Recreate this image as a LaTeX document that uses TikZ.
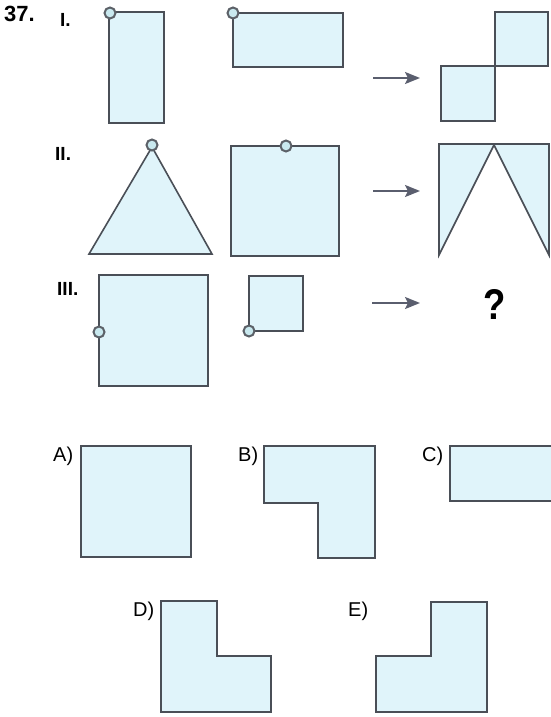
\documentclass[tikz,border=0pt]{standalone}
\usepackage{fontspec}
\setsansfont{Liberation Sans}
\usetikzlibrary{arrows.meta}
\definecolor{paleblue}{HTML}{E0F4FA}
\definecolor{edgegray}{HTML}{4A4F57}
\definecolor{arrowgray}{HTML}{5A5E6E}
\definecolor{hingefill}{HTML}{C9E9EF}

\begin{document}
\begin{tikzpicture}[
  x=1pt,y=-1pt,
  font=\sffamily\fontsize{20}{22}\selectfont,
  piece/.style={draw=edgegray,line width=1.6pt,fill=paleblue,line join=miter},
  hinge/.style={draw=edgegray!90,line width=2pt,fill=hingefill},
  flow/.style={-{Stealth[length=15pt,width=12pt,inset=3pt]},line width=2pt,draw=arrowgray},
  tag/.style={anchor=base west,inner sep=0pt},
  roman/.style={tag,font=\sffamily\bfseries\fontsize{19}{21}\selectfont},
  num/.style={tag,font=\sffamily\bfseries\fontsize{22}{24}\selectfont},
  ask/.style={inner sep=0pt,xscale=0.85,font=\sffamily\bfseries\fontsize{43}{46}\selectfont}
]
\path[use as bounding box] (0,0) rectangle (551,717);
\node[num] (q37) at (4,22) {37.};
\node[roman] (rowI) at (60,27) {I.};
\node[roman] (rowII) at (55,160) {II.};
\node[roman] (rowIII) at (57,295) {III.};
% row I
\draw[piece] (109,12) rectangle (164,123);
\draw[piece] (233,13) rectangle (343,67);
\draw[hinge] (110,13) circle[radius=5.5pt];
\draw[hinge] (233,13) circle[radius=5.5pt];
\draw[piece] (495,12) rectangle (548,66);
\draw[piece] (441,66) rectangle (495,121);
% row II
\draw[piece] (152,147) -- (212,254) -- (89,254) -- cycle;
\draw[piece] (231,146) rectangle (339,256);
\draw[hinge] (152,145) circle[radius=5.5pt];
\draw[hinge] (286,146) circle[radius=5.5pt];
\draw[piece] (439,144) -- (549,144) -- (549,255) -- (494,145) -- (439,255) -- cycle;
% row III
\draw[piece] (99,275) rectangle (208,386);
\draw[piece] (249,276) rectangle (303,331);
\draw[hinge] (99,332) circle[radius=5.5pt];
\draw[hinge] (249,331) circle[radius=5.5pt];
\node[ask] (ask) at (495,304) {?};
% arrows
\coordinate (s1) at (373,78);  \coordinate (e1) at (420,78);
\coordinate (s2) at (373,191); \coordinate (e2) at (420,191);
\coordinate (s3) at (372,303); \coordinate (e3) at (420,303);
\draw[flow] (s1) -- (e1);
\draw[flow] (s2) -- (e2);
\draw[flow] (s3) -- (e3);
% options
\node[tag] (optA) at (53,461) {A)};
\node[tag] (optB) at (238,461) {B)};
\node[tag] (optC) at (422,461) {C)};
\node[tag] (optD) at (133,616) {D)};
\node[tag] (optE) at (348,616) {E)};
\draw[piece] (81,446) rectangle (191,557);
\draw[piece] (264,446) -- (375,446) -- (375,558) -- (318,558) -- (318,503) -- (264,503) -- cycle;
\fill[paleblue] (450,446) rectangle (551,501);
\draw[piece,fill=none] (551,446) -- (450,446) -- (450,501) -- (551,501);
\draw[piece] (161,601) -- (217,601) -- (217,656) -- (271,656) -- (271,712) -- (161,712) -- cycle;
\draw[piece] (431,602) -- (487,602) -- (487,712) -- (376,712) -- (376,656) -- (431,656) -- cycle;
\end{tikzpicture}
\end{document}
